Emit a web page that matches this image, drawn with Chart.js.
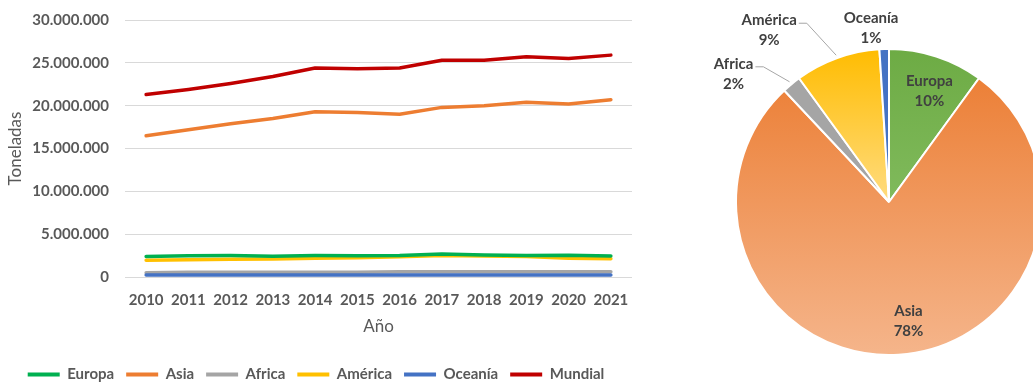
<!DOCTYPE html>
<html>
<head>
<meta charset="utf-8">
<script src="https://cdn.jsdelivr.net/npm/chart.js@4/dist/chart.umd.min.js"></script>
<style>
  html, body { margin: 0; padding: 0; background: #fff; overflow: hidden; }
  body { width: 1033px; height: 383px; position: relative; }
  #lineChart { position: absolute; left: 0; top: 0; }
  #pieChart { position: absolute; left: 700px; top: 0; }
</style>
</head>
<body>
<canvas id="lineChart" width="644" height="383"></canvas>
<canvas id="pieChart" width="380" height="383"></canvas>
<script>
// toneladas por año
const years = ['2010', '2011', '2012', '2013', '2014', '2015', '2016', '2017', '2018', '2019', '2020', '2021'];
const europa = [2400000, 2480000, 2500000, 2420000, 2500000, 2480000, 2520000, 2680000, 2560000, 2520000, 2550000, 2450000];
const asia = [16500000, 17200000, 17900000, 18500000, 19300000, 19200000, 19000000, 19800000, 20000000, 20400000, 20200000, 20700000];
const africa = [500000, 550000, 560000, 550000, 560000, 560000, 600000, 600000, 610000, 600000, 600000, 620000];
const america = [1950000, 2000000, 2080000, 2100000, 2200000, 2250000, 2350000, 2520000, 2450000, 2400000, 2200000, 2130000];
const oceania = [220000, 220000, 230000, 230000, 230000, 240000, 240000, 240000, 240000, 240000, 240000, 240000];
const mundial = [21300000, 21900000, 22600000, 23400000, 24400000, 24300000, 24400000, 25300000, 25300000, 25700000, 25500000, 25900000];
const yTicks = [0, 5000000, 10000000, 15000000, 20000000, 25000000, 30000000];

// reparto 2021 (%)
const pieLabels = ['Europa', 'Asia', 'Africa', 'América', 'Oceanía'];
const pieShares = [10, 78, 2, 9, 1];

const textGray = '#595959';
const fmt = v => String(v).replace(/\B(?=(\d{3})+(?!\d))/g, '.');

function serie(label, data, color, order) {
  return {
    label, data, order: order || 0,
    borderColor: color, backgroundColor: color,
    borderWidth: 3.5, pointRadius: 0, tension: 0,
    borderCapStyle: 'round', borderJoinStyle: 'round'
  };
}

new Chart(document.getElementById('lineChart'), {
  type: 'line',
  data: {
    labels: years,
    datasets: [
      serie('Europa', europa, '#00B050'),
      serie('Asia', asia, '#ED7D31'),
      serie('Africa', africa, '#A5A5A5', 1),
      serie('América', america, '#FFC000'),
      serie('Oceanía', oceania, '#4472C4'),
      serie('Mundial', mundial, '#C00000')
    ]
  },
  options: {
    responsive: false,
    animation: false,
    events: [],
    layout: { padding: { top: 20, right: 12, bottom: 0, left: 0 } },
    scales: {
      x: {
        offset: true,
        afterFit: scale => { scale.height = 78; },
        grid: { display: false },
        border: { display: false },
        ticks: { color: textGray, padding: 6, font: { family: 'Lato', size: 15, weight: 'bold' } },
        title: {
          display: true, text: 'Año', color: textGray,
          font: { family: 'Lato', size: 17 }, padding: { top: 0, bottom: 18 }
        }
      },
      y: {
        min: 0, max: 30000000,
        afterBuildTicks: scale => { scale.ticks = yTicks.map(v => ({ value: v })); },
        afterFit: scale => { scale.width = 125; },
        // marcas invisibles: separan las etiquetas del área sin añadir margen arriba
        grid: { color: '#D9D9D9', lineWidth: 1, drawTicks: true, tickLength: 11, tickColor: 'rgba(0,0,0,0)' },
        border: { display: false },
        ticks: {
          color: textGray, padding: 5,
          font: { family: 'Lato', size: 15, weight: 'bold' },
          callback: v => fmt(v)
        },
        title: {
          display: true, text: 'Toneladas', color: textGray,
          font: { family: 'Lato', size: 17 }, padding: { top: 5, bottom: 0 }
        }
      }
    },
    plugins: {
      tooltip: { enabled: false },
      legend: {
        position: 'bottom',
        align: 'center',
        maxHeight: 28,
        labels: {
          color: textGray,
          font: { family: 'Lato', size: 15, weight: 'bold' },
          boxWidth: 32, boxHeight: 4, padding: 12,
          sort: (a, b) => a.datasetIndex - b.datasetIndex,
          generateLabels: chart => Chart.defaults.plugins.legend.labels.generateLabels(chart)
            .map(item => Object.assign(item, { lineWidth: 0 }))
        }
      }
    }
  }
});

// gradiente vertical sobre el área del círculo
function vGrad(chart, from, to, y0, y1) {
  const g = chart.ctx.createLinearGradient(0, y0, 0, y1);
  g.addColorStop(0, from);
  g.addColorStop(1, to);
  return g;
}

const pieFill = c => {
  const chart = c.chart, a = chart.chartArea;
  if (!a) return '#ccc';
  const mid = (a.top + a.bottom) / 2;
  switch (c.dataIndex) {
    case 0: return vGrad(chart, '#6DAB44', '#80BA5C', a.top, mid);
    case 1: return vGrad(chart, '#EB7A2E', '#F5B58B', a.top, a.bottom);
    case 2: return '#A5A5A5';
    case 3: return vGrad(chart, '#FFBC00', '#FFDC80', a.top, mid);
    default: return '#4472C4';
  }
};

// etiquetas de porcentaje, dentro o fuera del sector
const pieLabelPlugin = {
  id: 'pieLabels',
  afterDatasetsDraw(chart, args, opts) {
    const ctx = chart.ctx;
    const arcs = chart.getDatasetMeta(0).data;
    ctx.save();
    ctx.font = 'bold 15px Lato';
    ctx.fillStyle = '#404040';
    ctx.strokeStyle = '#A6A6A6';
    ctx.lineWidth = 1;
    ctx.textAlign = 'center';
    ctx.textBaseline = 'middle';
    arcs.forEach((arc, i) => {
      const p = arc.getProps(['x', 'y', 'startAngle', 'endAngle', 'outerRadius'], true);
      const mid = (p.startAngle + p.endAngle) / 2;
      const pl = opts.place[i];
      const top = pieLabels[i], bottom = pieShares[i] + '%';
      let cx, cy;
      if (pl.inside) {
        cx = p.x + Math.cos(mid) * p.outerRadius * pl.r + pl.dx;
        cy = p.y + Math.sin(mid) * p.outerRadius * pl.r + pl.dy;
      } else {
        const ax = p.x + Math.cos(mid) * (p.outerRadius + 3);
        const ay = p.y + Math.sin(mid) * (p.outerRadius + 3);
        cx = ax + pl.dx;
        cy = ay + pl.dy;
        if (pl.leader) {
          const sx = cx + ctx.measureText(top).width / 2 + 2;
          const sy = cy - opts.lineGap / 2 + 3;
          ctx.beginPath();
          ctx.moveTo(sx, sy);
          ctx.lineTo(sx + 8, sy);
          ctx.lineTo(ax, ay);
          ctx.stroke();
        }
      }
      ctx.fillText(top, cx, cy - opts.lineGap / 2);
      ctx.fillText(bottom, cx, cy + opts.lineGap / 2);
    });
    ctx.restore();
  }
};

new Chart(document.getElementById('pieChart'), {
  type: 'pie',
  data: {
    labels: pieLabels,
    datasets: [{
      data: pieShares,
      backgroundColor: pieFill,
      borderColor: '#ffffff',
      borderWidth: 2
    }]
  },
  options: {
    responsive: false,
    animation: false,
    events: [],
    layout: { padding: { left: 35, right: 37, top: 48, bottom: 27 } },
    plugins: {
      legend: { display: false },
      tooltip: { enabled: false },
      pieLabels: {
        lineGap: 20,
        place: [
          { inside: true, r: 0.77, dx: 4, dy: 1 },
          { inside: true, r: 0.78, dx: 12, dy: 0 },
          { inside: false, dx: -56, dy: -8, leader: true },
          { inside: false, dx: -67, dy: -25, leader: true },
          { inside: false, dx: -13, dy: -18, leader: false }
        ]
      }
    }
  },
  plugins: [pieLabelPlugin]
});
</script>
</body>
</html>
